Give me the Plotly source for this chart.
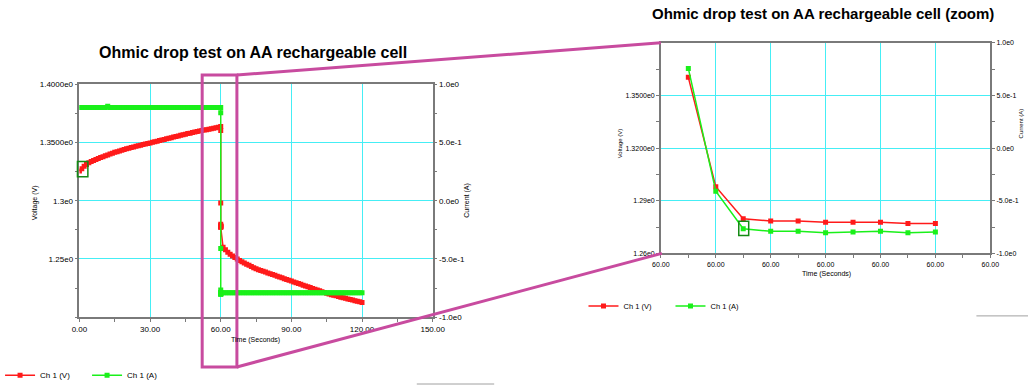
import plotly.graph_objects as go

# ---------------- data ----------------
# Left chart: full test (time in seconds)
t_charge = list(range(0, 61))
v_charge = [1.3255, 1.3275, 1.3295, 1.3310, 1.3325, 1.3337, 1.3346, 1.3354, 1.3362, 1.3370,
            1.3378, 1.3386, 1.3393, 1.3401, 1.3408, 1.3415, 1.3421, 1.3427, 1.3433, 1.3439,
            1.3445, 1.3451, 1.3456, 1.3462, 1.3467, 1.3472, 1.3477, 1.3482, 1.3487, 1.3491,
            1.3496, 1.3501, 1.3506, 1.3511, 1.3516, 1.3521, 1.3526, 1.3531, 1.3536, 1.3541,
            1.3546, 1.3551, 1.3556, 1.3561, 1.3566, 1.3571, 1.3576, 1.3580, 1.3585, 1.3589,
            1.3594, 1.3598, 1.3602, 1.3606, 1.3610, 1.3614, 1.3618, 1.3622, 1.3626, 1.3630,
            1.3638]
i_charge = [0.80, 0.80, 0.80, 0.80, 0.80, 0.80, 0.80, 0.80, 0.80, 0.80,
            0.80, 0.80, 0.81, 0.80, 0.80, 0.80, 0.80, 0.80, 0.80, 0.80,
            0.80, 0.80, 0.80, 0.80, 0.80, 0.80, 0.80, 0.80, 0.80, 0.80,
            0.80, 0.80, 0.80, 0.80, 0.80, 0.80, 0.80, 0.80, 0.80, 0.80,
            0.80, 0.80, 0.80, 0.80, 0.80, 0.80, 0.80, 0.80, 0.80, 0.80,
            0.80, 0.80, 0.80, 0.80, 0.80, 0.80, 0.80, 0.80, 0.80, 0.80,
            0.80]

# Points just after the current step (shown in the zoom chart)
zoom_time = [60.0005, 60.0010, 60.0015, 60.0020, 60.0025,
             60.0030, 60.0035, 60.0040, 60.0045, 60.0050]
zoom_v = [1.3603, 1.2980, 1.2797, 1.2785, 1.2785, 1.2778, 1.2778, 1.2778, 1.2771, 1.2771]
zoom_i = [0.756, -0.410, -0.766, -0.790, -0.790, -0.804, -0.797, -0.790, -0.804, -0.797]

t_discharge = list(range(61, 121))
v_discharge = [1.2600, 1.2578, 1.2558, 1.2541, 1.2526, 1.2512, 1.2499, 1.2487, 1.2476, 1.2465,
               1.2455, 1.2445, 1.2435, 1.2425, 1.2415, 1.2408, 1.2401, 1.2394, 1.2387, 1.2380,
               1.2373, 1.2366, 1.2359, 1.2352, 1.2345, 1.2338, 1.2331, 1.2324, 1.2317, 1.2310,
               1.2303, 1.2296, 1.2289, 1.2282, 1.2275, 1.2268, 1.2261, 1.2254, 1.2247, 1.2240,
               1.2233, 1.2226, 1.2219, 1.2212, 1.2205, 1.2199, 1.2193, 1.2188, 1.2183, 1.2177,
               1.2172, 1.2167, 1.2162, 1.2157, 1.2152, 1.2147, 1.2142, 1.2137, 1.2132, 1.2127]
i_discharge = [-0.79, -0.79, -0.79, -0.79, -0.79, -0.79, -0.79, -0.79, -0.79, -0.79,
               -0.79, -0.79, -0.79, -0.79, -0.79, -0.79, -0.79, -0.79, -0.79, -0.79,
               -0.79, -0.79, -0.79, -0.79, -0.79, -0.79, -0.79, -0.79, -0.79, -0.79,
               -0.79, -0.79, -0.79, -0.79, -0.79, -0.79, -0.79, -0.79, -0.79, -0.79,
               -0.79, -0.79, -0.79, -0.79, -0.79, -0.79, -0.79, -0.79, -0.79, -0.79,
               -0.79, -0.79, -0.79, -0.79, -0.79, -0.79, -0.79, -0.79, -0.79, -0.79]

# Tick labels
left_x_ticks = [0, 30, 60, 90, 120, 150]
left_x_labels = ["0.00", "30.00", "60.00", "90.00", "120.00", "150.00"]
left_v_ticks = [1.25, 1.30, 1.35, 1.40]
left_v_labels = ["1.25e0", "1.3e0", "1.3500e0", "1.4000e0"]
current_ticks = [-1.0, -0.5, 0.0, 0.5, 1.0]
current_labels = ["-1.0e0", "-5.0e-1", "0.0e0", "5.0e-1", "1.0e0"]
zoom_x_ticks = [60.000, 60.001, 60.002, 60.003, 60.004, 60.005, 60.006]
zoom_x_labels = ["60.00", "60.00", "60.00", "60.00", "60.00", "60.00", "60.00"]
zoom_v_ticks = [1.26, 1.29, 1.32, 1.35]
zoom_v_labels = ["1.26e0", "1.29e0", "1.3200e0", "1.3500e0"]

# ---------------- styling helpers ----------------
W, H = 1028, 390
def px(x):
    return x / W
def py(y):
    return 1 - y / H

FONT = "Liberation Sans, Arial, sans-serif"
RED = "#FF1A1A"
GREEN = "#1AF01A"
GRID = "#45EEF5"
AXIS = "#7A7A7A"
MAGENTA = "#C84B9F"

fig = go.Figure()

left_t = t_charge + zoom_time + t_discharge
fig.add_trace(go.Scatter(
    x=left_t, y=i_charge + zoom_i + i_discharge, name="Ch 1 (A)",
    xaxis="x", yaxis="y2", mode="lines+markers",
    line=dict(color=GREEN, width=1.5), marker=dict(symbol="square", size=5, color=GREEN),
    legend="legend", legendrank=2))
fig.add_trace(go.Scatter(
    x=left_t, y=v_charge + zoom_v + v_discharge, name="Ch 1 (V)",
    xaxis="x", yaxis="y", mode="lines+markers",
    line=dict(color=RED, width=1.5), marker=dict(symbol="square", size=5, color=RED),
    legend="legend", legendrank=1))

fig.add_trace(go.Scatter(
    x=zoom_time, y=zoom_i, name="Ch 1 (A)",
    xaxis="x2", yaxis="y4", mode="lines+markers",
    line=dict(color=GREEN, width=1.5), marker=dict(symbol="square", size=5, color=GREEN),
    legend="legend2", legendrank=2))
fig.add_trace(go.Scatter(
    x=zoom_time, y=zoom_v, name="Ch 1 (V)",
    xaxis="x2", yaxis="y3", mode="lines+markers",
    line=dict(color=RED, width=1.5), marker=dict(symbol="square", size=5, color=RED),
    legend="legend2", legendrank=1))

def axis_common(fsize):
    return dict(showline=True, linecolor=AXIS, linewidth=1.5, automargin=False,
                ticks="outside", ticklen=3, tickcolor=AXIS, tickwidth=1,
                tickfont=dict(family=FONT, size=fsize, color="black"),
                zeroline=False, fixedrange=True)

# Left chart axes
fig.update_layout(
    xaxis=dict(domain=[px(72), px(428)], range=[0, 150], anchor="y",
               tickmode="array", tickvals=left_x_ticks, ticktext=left_x_labels,
               showgrid=True, gridcolor=GRID, gridwidth=1, mirror=True,
               minor=dict(dtick=15, ticks="outside", ticklen=3, tickcolor=AXIS, showgrid=False),
               **axis_common(8)),
    yaxis=dict(domain=[py(321.3), py(85.3)], range=[1.2, 1.4], anchor="x",
               tickmode="array", tickvals=left_v_ticks, ticktext=left_v_labels,
               showgrid=True, gridcolor=GRID, gridwidth=1,
               minor=dict(dtick=0.025, tick0=1.2, ticks="outside", ticklen=3, tickcolor=AXIS, showgrid=False),
               **axis_common(8)),
    yaxis2=dict(range=[-1, 1], overlaying="y", side="right", anchor="x",
                tickmode="array", tickvals=current_ticks, ticktext=current_labels,
                showgrid=False,
                minor=dict(dtick=0.25, tick0=-1, ticks="outside", ticklen=3, tickcolor=AXIS, showgrid=False),
                **axis_common(8)),
    # Right (zoom) chart axes
    xaxis2=dict(domain=[px(658), px(990)], range=[60.000, 60.006], anchor="y3",
                tickmode="array", tickvals=zoom_x_ticks, ticktext=zoom_x_labels,
                showgrid=True, gridcolor=GRID, gridwidth=1, mirror=True,
                minor=dict(dtick=0.0005, tick0=60.0, ticks="outside", ticklen=3, tickcolor=AXIS, showgrid=False),
                **axis_common(7)),
    yaxis3=dict(domain=[py(256.7), py(43.3)], range=[1.26, 1.38], anchor="x2",
                tickmode="array", tickvals=zoom_v_ticks, ticktext=zoom_v_labels,
                showgrid=True, gridcolor=GRID, gridwidth=1,
                minor=dict(dtick=0.015, tick0=1.26, ticks="outside", ticklen=3, tickcolor=AXIS, showgrid=False),
                **axis_common(7)),
    yaxis4=dict(range=[-1, 1], overlaying="y3", side="right", anchor="x2",
                tickmode="array", tickvals=current_ticks, ticktext=current_labels,
                showgrid=False,
                minor=dict(dtick=0.25, tick0=-1, ticks="outside", ticklen=3, tickcolor=AXIS, showgrid=False),
                **axis_common(7)),
)

fig.update_layout(
    width=W, height=H, autosize=False,
    margin=dict(l=0, r=0, t=0, b=0, pad=0),
    paper_bgcolor="white", plot_bgcolor="white",
    font=dict(family=FONT, size=8, color="black"),
    legend=dict(orientation="h", x=px(-8), y=py(380), xanchor="left", yanchor="middle",
                font=dict(family=FONT, size=8, color="black"), bgcolor="rgba(0,0,0,0)",
                entrywidth=42, entrywidthmode="pixels", traceorder="normal"),
    legend2=dict(orientation="h", x=px(580), y=py(310), xanchor="left", yanchor="middle",
                 font=dict(family=FONT, size=7.5, color="black"), bgcolor="rgba(0,0,0,0)",
                 entrywidth=42, entrywidthmode="pixels", traceorder="normal"),
)

# Titles and axis titles
def ann(text, x, y, size, bold=False, angle=0):
    fig.add_annotation(text=f"<b>{text}</b>" if bold else text, xref="paper", yref="paper",
                       x=px(x), y=py(y), xanchor="center", yanchor="middle",
                       showarrow=False, textangle=angle,
                       font=dict(family=FONT, size=size, color="black"))

ann("Ohmic drop test on AA rechargeable cell", 247, 53, 16, bold=True)
ann("Ohmic drop test on AA rechargeable cell (zoom)", 821.5, 14, 15, bold=True)
ann("Time (Seconds)", 249.5, 344.5, 7)
ann("Time (Seconds)", 824.5, 277.5, 7)
ann("Voltage (V)", 28, 205, 7, angle=-90)
ann("Current (A)", 463, 203, 7, angle=-90)
ann("Voltage (V)", 617, 145, 6, angle=-90)
ann("Current (A)", 1021, 125, 6, angle=-90)

shapes = []
# zoom window and connector lines
shapes.append(dict(type="rect", xref="paper", yref="paper",
                   x0=px(195.7), x1=px(230.7), y0=py(371.7), y1=py(76),
                   line=dict(color=MAGENTA, width=3), layer="above"))
shapes.append(dict(type="line", xref="paper", yref="paper",
                   x0=px(230.7), y0=py(76), x1=px(658), y1=py(43.3),
                   line=dict(color=MAGENTA, width=3), layer="above"))
shapes.append(dict(type="line", xref="paper", yref="paper",
                   x0=px(230.7), y0=py(371.7), x1=px(659), y1=py(256.7),
                   line=dict(color=MAGENTA, width=3), layer="above"))
# highlight boxes
shapes.append(dict(type="rect", xref="paper", yref="paper",
                   x0=px(70), x1=px(80.5), y0=py(179), y1=py(163.5),
                   line=dict(color="#138A13", width=1.5), layer="above"))
shapes.append(dict(type="rect", xref="paper", yref="paper",
                   x0=px(736.5), x1=px(746.5), y0=py(238.5), y1=py(224),
                   line=dict(color="#138A13", width=1.5), layer="above"))
# small leftover gray strokes at the edges
shapes.append(dict(type="line", xref="paper", yref="paper",
                   x0=px(412), y0=py(389), x1=px(490), y1=py(389),
                   line=dict(color="#A0A0A0", width=1)))
shapes.append(dict(type="line", xref="paper", yref="paper",
                   x0=px(976), y0=py(320), x1=px(1028), y1=py(320),
                   line=dict(color="#A0A0A0", width=1)))
fig.update_layout(shapes=shapes)

fig.write_html("out.html", config={"displayModeBar": False},
               post_script="document.body.style.margin='0px';document.body.style.overflow='hidden';")
